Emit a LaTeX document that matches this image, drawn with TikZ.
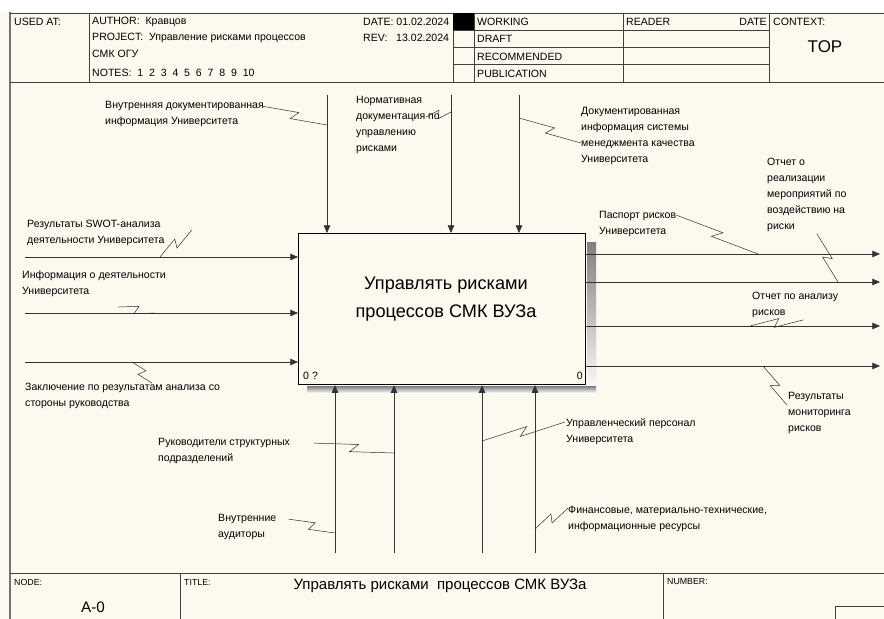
\documentclass[tikz,border=0pt]{standalone}
\usepackage{fontspec}
\setmainfont{Liberation Sans}
\usetikzlibrary{arrows.meta,calc}

\definecolor{paper}{HTML}{FDF9EE}
\definecolor{shade}{HTML}{A4A4A4}

\tikzset{
  rule/.style={draw=black!75, line width=0.7pt},
  arr/.style={draw=black!80, line width=0.6pt, -{Triangle[length=6.5pt,width=5.5pt]}},
  lbl/.style={anchor=west, inner sep=0pt, align=left, font=\fontsize{9}{13.5}\selectfont},
  hdr/.style={anchor=west, inner sep=0pt, font=\fontsize{9}{11}\selectfont},
  tiny/.style={anchor=west, inner sep=0pt, font=\fontsize{7.5}{9}\selectfont},
  squig/.style={draw=black!85, line width=0.4pt,
    to path={-- ($(\tikztostart)!0.55!(\tikztotarget)!3.5pt!90:(\tikztotarget)$)
             -- ($(\tikztostart)!0.45!(\tikztotarget)!3.5pt!-90:(\tikztotarget)$)
             -- (\tikztotarget)}},
}

\begin{document}
\begin{tikzpicture}[x=0.03cm, y=-0.03cm]
% sheet
\useasboundingbox (0,0) rectangle (884,619);
\fill[paper] (0,0) rectangle (884,619);
\fill[white] (0,0) rectangle (884,12);
\draw[black!55, line width=1.6pt] (10,12) -- (10,619);

% header
\draw[rule] (10,13) -- (884,13);
\draw[rule] (10,82) -- (884,82);
\draw[rule] (89,13) -- (89,82);
\draw[rule] (453,13) -- (453,82);
\fill[black] (453,13) rectangle (474,30);
\draw[rule] (474,13) -- (474,82);
\draw[rule] (623,13) -- (623,82);
\draw[rule] (769,13) -- (769,82);
\draw[rule] (453,30) -- (769,30);
\draw[rule] (453,47) -- (769,47);
\draw[rule] (453,64) -- (769,64);

\node[hdr] (usedat) at (14,22) {USED AT:};
\node[hdr] (author) at (92,22) {AUTHOR:\ \ Кравцов};
\node[hdr] (project) at (92,38) {PROJECT:\ \ Управление рисками процессов};
\node[hdr] (project2) at (92,54) {СМК ОГУ};
\node[hdr] (notes) at (92,73) {NOTES:\ \ 1\ \ 2\ \ 3\ \ 4\ \ 5\ \ 6\ \ 7\ \ 8\ \ 9\ \ 10};
\node[hdr] (date) at (363,22) {DATE: 01.02.2024};
\node[hdr] (rev) at (363,38) {REV:\ \ \ 13.02.2024};
\node[hdr] (working) at (477,22) {WORKING};
\node[hdr] (draft) at (477,39) {DRAFT};
\node[hdr] (recommended) at (477,57) {RECOMMENDED};
\node[hdr] (publication) at (477,74) {PUBLICATION};
\node[hdr] (reader) at (626,22) {READER};
\node[hdr, anchor=east] (readerdate) at (767,22) {DATE};
\node[hdr] (context) at (773,22) {CONTEXT:};
\node[font=\fontsize{14.5}{16}\selectfont] (top) at (825,47) {TOP};

% footer
\draw[rule] (10,573) -- (884,573);
\draw[rule] (180,573) -- (180,619);
\draw[rule] (663,573) -- (663,619);
\draw[rule] (835,606) rectangle (892,625);
\node[tiny] (nodelbl) at (14,582) {NODE:};
\node[font=\fontsize{13}{15}\selectfont] (nodeno) at (93,607) {A-0};
\node[tiny] (titlelbl) at (184,582) {TITLE:};
\node[font=\fontsize{12.8}{14}\selectfont] (title) at (440,586) {Управлять рисками\ \ процессов СМК ВУЗа};
\node[tiny] (numberlbl) at (667,582) {NUMBER:};

% function box
\node[draw=black, line width=1pt, fill=paper, anchor=north west, inner sep=0pt,
      minimum width=8.61cm, minimum height=4.53cm] (box) at (298,233) {};
\fill[shade] ($(box.north east)+(1,9)$) rectangle ($(box.south east)+(10,8)$);
\fill[shade] ($(box.south west)+(9,1)$) rectangle ($(box.south east)+(10,8)$);
\node[font=\fontsize{15.5}{24}\selectfont, align=center] (boxtxt) at (446,299) {Управлять рисками\\процессов СМК ВУЗа};
\node[hdr] (boxno) at (303,376) {0 ?};
\node[hdr, anchor=east] (boxref) at (583,376) {0};

% controls
\coordinate (c1s) at (327,95);
\coordinate (c2s) at (451,95);
\coordinate (c3s) at (519,95);
\draw[arr] (c1s) -- (c1s |- box.north);
\draw[arr] (c2s) -- (c2s |- box.north);
\draw[arr] (c3s) -- (c3s |- box.north);

% inputs
\coordinate (i1s) at (25,257);
\coordinate (i2s) at (25,313);
\coordinate (i3s) at (25,362);
\draw[arr] (i1s) -- (i1s -| box.west);
\draw[arr] (i2s) -- (i2s -| box.west);
\draw[arr] (i3s) -- (i3s -| box.west);

% outputs
\coordinate (o1e) at (880,254);
\coordinate (o2e) at (880,282);
\coordinate (o3e) at (880,326);
\coordinate (o4e) at (880,366);
\draw[arr] (o1e -| box.east) -- (o1e);
\draw[arr] (o2e -| box.east) -- (o2e);
\draw[arr] (o3e -| box.east) -- (o3e);
\draw[arr] (o4e -| box.east) -- (o4e);

% mechanisms
\coordinate (m1s) at (335,553);
\coordinate (m2s) at (394,553);
\coordinate (m3s) at (482,553);
\coordinate (m4s) at (535,553);
\draw[arr] (m1s) -- (m1s |- box.south);
\draw[arr] (m2s) -- (m2s |- box.south);
\draw[arr] (m3s) -- (m3s |- box.south);
\draw[arr] (m4s) -- (m4s |- box.south);

% labels
\node[lbl] (lc1) at (105,114) {Внутренняя документированная\\информация Университета};
\node[lbl] (lc2) at (356,125) {Нормативная\\документация по\\управлению\\рисками};
\node[lbl] (lc3) at (581,136) {Документированная\\информация системы\\менеджмента качества\\Университета};
\node[lbl] (li1) at (27,233) {Результаты SWOT-анализа\\деятельности Университета};
\node[lbl] (li2) at (22,284) {Информация о деятельности\\Университета};
\node[lbl] (li3) at (25,396) {Заключение по результатам анализа со\\стороны руководства};
\node[lbl] (lo1) at (599,224) {Паспорт рисков\\Университета};
\node[lbl] (lo2) at (767,195) {Отчет о\\реализации\\мероприятий по\\воздействию на\\риски};
\node[lbl] (lo3) at (752,305) {Отчет по анализу\\рисков};
\node[lbl] (lo4) at (788,413) {Результаты\\мониторинга\\рисков};
\node[lbl] (lm1) at (218,527) {Внутренние\\аудиторы};
\node[lbl] (lm2) at (158,451) {Руководители структурных\\подразделений};
\node[lbl] (lm3) at (566,432) {Управленческий персонал\\Университета};
\node[lbl] (lm4) at (568,519) {Финансовые, материально-технические,\\информационные ресурсы};

% leaders
\coordinate (c1p) at (327,125);
\coordinate (c2p) at (451,112);
\coordinate (c3p) at (519,118);
\coordinate (i1p) at (160,257);
\coordinate (i2p) at (155,313);
\coordinate (i3p) at (132,362);
\coordinate (o1p) at (758,254);
\coordinate (o2p) at (838,282);
\coordinate (o3p) at (750,326);
\coordinate (o4p) at (763,366);
\coordinate (m1p) at (335,533);
\coordinate (m2p) at (394,453);
\coordinate (m3p) at (482,441);
\coordinate (m4p) at (535,529);
\draw[squig] ($(lc1.north east)+(-2,5)$) to (c1p);
\draw[squig] ($(lc2.east)+(-14,-8)$) to (c2p);
\draw[squig] (c3p) to ($(lc3.west)+(0,7)$);
\draw[squig] ($(li1.east)+(27,-3)$) to (i1p);
\draw[squig] ($(li2.south west)+(96,10)$) to (i2p);
\draw[squig] (i3p) to ($(li3.north west)+(127,0)$);
\draw[squig] (lo1.north east) ++(0,4) to (o1p);
\draw[squig] ($(lo2.south)+(10,2)$) to (o2p);
\draw[squig] (o3p) to ($(lo3.south)+(8,2)$);
\draw[squig] (o4p) to ($(lo4.west)+(-1,-8)$);
\draw[squig] ($(lm1.north east)+(12,5)$) to (m1p);
\draw[squig] ($(lm2.north east)+(24,5)$) to (m2p);
\draw[squig] ($(lm3.west)+(-1,-10)$) to (m3p);
\draw[squig] ($(lm4.west)+(0,-11)$) to (m4p);
\end{tikzpicture}
\end{document}
